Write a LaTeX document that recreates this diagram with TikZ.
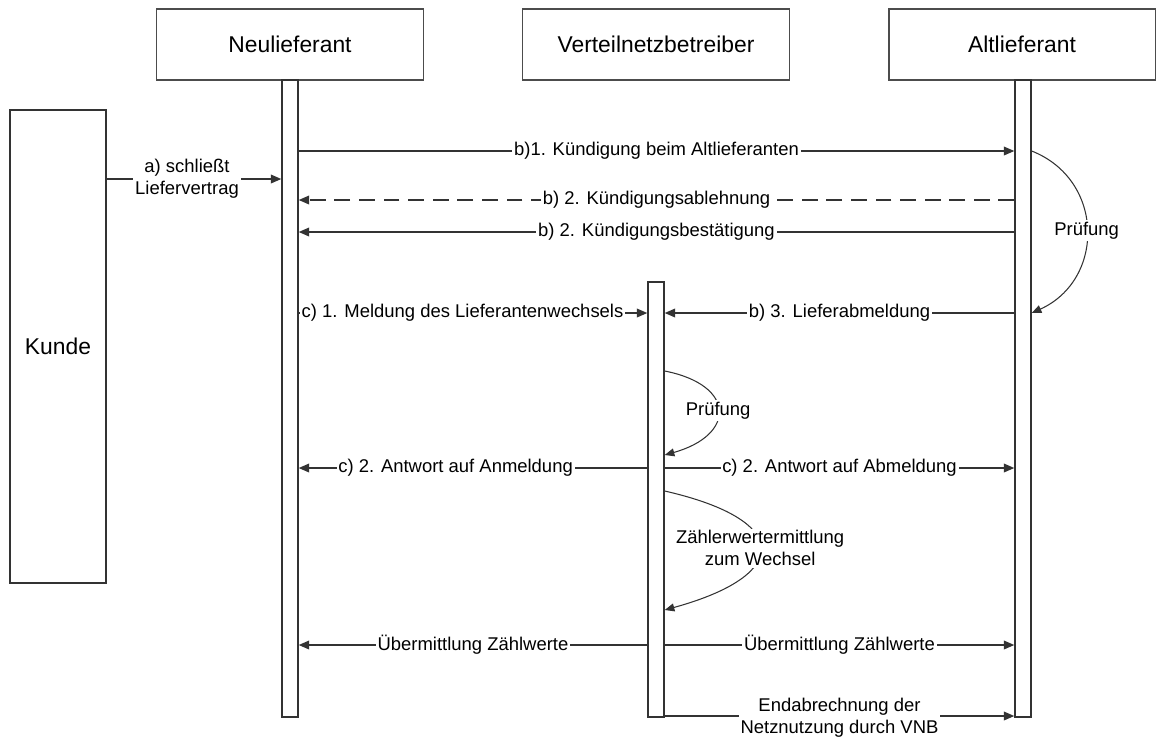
\documentclass[tikz,border=0pt]{standalone}
\usepackage{fontspec}
\setmainfont{Liberation Sans}
\usetikzlibrary{arrows.meta}
\begin{document}
\begin{tikzpicture}[x=0.02cm,y=-0.02cm,
    actor/.style={draw=black!70,line width=1.1pt,fill=white,minimum width=5.34cm,minimum height=1.42cm,inner sep=0pt,font=\fontsize{13}{15}\selectfont},
    life/.style={draw=black!80,line width=0.8pt,fill=white,minimum width=0.32cm,inner sep=0pt},
    msg/.style={draw=black!80,line width=0.8pt,-{Triangle[length=6pt,width=5pt]}},
    lbl/.style={fill=white,inner sep=1pt,align=center,font=\fontsize{10.5}{12.5}\selectfont},
    loopy/.style={draw=black!80,line width=0.6pt,-{Triangle[length=5.5pt,width=4.5pt]}}]
        \useasboundingbox (0,0) rectangle (1157,738);
        %% actors
        \node[actor] (neu) at (290,44.5) {Neulieferant};
        \node[actor] (vnb) at (656,44.5) {Verteilnetzbetreiber};
        \node[actor] (alt) at (1022,44.5) {Altlieferant};
        \node[draw=black!80,line width=0.8pt,minimum width=1.92cm,minimum height=9.46cm,inner sep=0pt,font=\fontsize{13}{15}\selectfont] (kunde) at (58,346.5) {Kunde};
        %% lifelines
        \node[life,minimum height=12.74cm] (nl) at (290,398.5) {};
        \node[life,minimum height=8.7cm] (vl) at (656,499.5) {};
        \node[life,minimum height=12.74cm] (al) at (1023,398.5) {};
        %% rows
        \coordinate (r0) at (0,179);
        \coordinate (r1) at (0,151);
        \coordinate (r2) at (0,200);
        \coordinate (r3) at (0,232);
        \coordinate (r4) at (0,313);
        \coordinate (r5) at (0,468);
        \coordinate (r6) at (0,645);
        \coordinate (r7) at (0,716);
        %% a)
        \draw[msg] (kunde.east |- r0) -- node[lbl,pos=0.46] {a) schließt\\Liefervertrag} (nl.west |- r0);
        %% b)
        \draw[msg] (nl.east |- r1) -- node[lbl] {b)1. Kündigung beim Altlieferanten} (al.west |- r1);
        \draw[msg,dash pattern=on 9pt off 5pt] (al.west |- r2) -- node[lbl] {b) 2. Kündigungsablehnung} (nl.east |- r2);
        \draw[msg] (al.west |- r3) -- node[lbl] {b) 2. Kündigungsbestätigung} (nl.east |- r3);
        \draw[msg] (al.west |- r4) -- node[lbl] {b) 3. Lieferabmeldung} (vl.east |- r4);
        \draw[loopy] (al.east |- r1) .. controls (1105,180) and (1105,280) .. node[lbl] {Prüfung} (al.east |- r4);
        %% c)
        \draw[msg] (nl.east |- r4) -- node[lbl,pos=0.47] {c) 1. Meldung des Lieferantenwechsels} (vl.west |- r4);
        \draw[loopy] (vl.east |- 0,371) .. controls (736,385) and (736,435) .. node[lbl] {Prüfung} (vl.east |- 0,455);
        \draw[msg] (vl.west |- r5) -- node[lbl,pos=0.55] {c) 2. Antwort auf Anmeldung} (nl.east |- r5);
        \draw[msg] (vl.east |- r5) -- node[lbl] {c) 2. Antwort auf Abmeldung} (al.west |- r5);
        %% Zaehlwerte
        \draw[loopy] (vl.east |- 0,491) .. controls (792,520) and (792,575) .. node[lbl] {Zählerwertermittlung\\zum Wechsel} (vl.east |- 0,610);
        \draw[msg] (vl.west |- r6) -- node[lbl] {Übermittlung Zählwerte} (nl.east |- r6);
        \draw[msg] (vl.east |- r6) -- node[lbl] {Übermittlung Zählwerte} (al.west |- r6);
        \draw[msg] (vl.east |- r7) -- node[lbl,yshift=-1pt] {Endabrechnung der\\Netznutzung durch VNB} (al.west |- r7);
\end{tikzpicture}
\end{document}
